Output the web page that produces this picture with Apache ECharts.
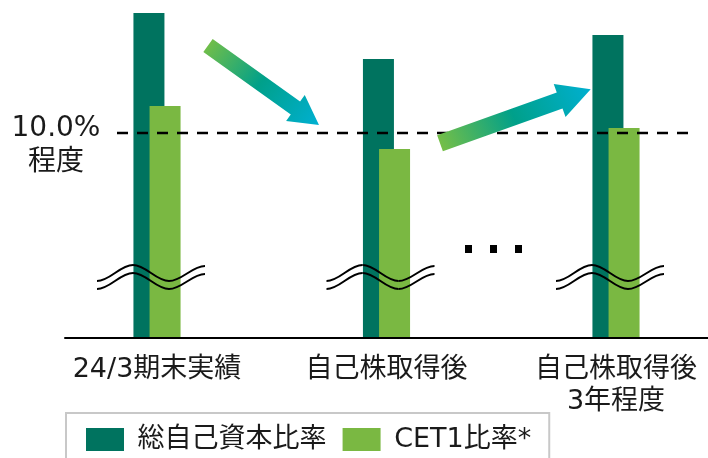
<!DOCTYPE html>
<html><head><meta charset="utf-8">
<script src="https://cdn.jsdelivr.net/npm/echarts@6/dist/echarts.min.js"></script>
<style>html,body{margin:0;padding:0;background:#fff}#c{width:708px;height:458px}</style>
</head><body><div id="c"></div>
<script>
// ---- data ----
const categories = ['24/3期末実績', '自己株取得後', '自己株取得後\n3年程度'];
const seriesNames = ['総自己資本比率', 'CET1比率*'];
const totalCapitalRatio = [15.86, 13.62, 14.79];
const cet1Ratio = [11.32, 9.22, 10.25];
const referenceLevel = 10.0;
const referenceLabel = '10.0%\n程度';

// ---- style ----
const FONT = "'DejaVu Sans', 'Noto Sans CJK JP', sans-serif";
const DARK = '#00735F', LIGHT = '#7AB842', TEXT = '#1a1a1a';

const chart = echarts.init(document.getElementById('c'), null, {renderer: 'canvas'});
chart.setOption({
  animation: false,
  grid: [
    {left: 157, right: 92, top: 5, bottom: 120},
    {left: 65, right: 0, top: 5, bottom: 120}
  ],
  xAxis: [
    {type: 'category', data: categories, gridIndex: 0, boundaryGap: false,
     axisLine: {show: false}, axisTick: {show: false}, splitLine: {show: false},
     axisLabel: {fontFamily: FONT, fontSize: 27, lineHeight: 32, color: TEXT, margin: 16, interval: 0}},
    {type: 'value', gridIndex: 1, min: 0, max: 1, position: 'bottom', z: 10,
     axisLine: {show: true, onZero: false, lineStyle: {color: '#000', width: 2}},
     axisTick: {show: false}, axisLabel: {show: false}, splitLine: {show: false}}
  ],
  yAxis: [
    {type: 'value', gridIndex: 0, min: 0, max: 16.25, show: false},
    {type: 'value', gridIndex: 1, min: 0, max: 1, show: false}
  ],
  legend: {
    left: 66, top: 413, itemWidth: 38, itemHeight: 23, itemGap: 16, icon: 'rect',
    padding: [13, 18, 20, 20], borderColor: '#c8c8c8', borderWidth: 2, selectedMode: false,
    formatter: n => ' ' + n,
    textStyle: {fontFamily: FONT, fontSize: 27, color: TEXT},
    data: seriesNames
  },
  series: [
    {name: seriesNames[0], type: 'bar', data: totalCapitalRatio, barWidth: 31, barGap: '-48%',
     clip: false, itemStyle: {color: DARK}},
    {name: seriesNames[1], type: 'bar', data: cet1Ratio, barWidth: 31, barGap: '-48%',
     clip: false, itemStyle: {color: LIGHT}}
  ]
});

// ---- annotations ----
const yRef = chart.convertToPixel({yAxisIndex: 0}, referenceLevel);
const centers = categories.map((c, i) => chart.convertToPixel({xAxisIndex: 0}, i));

function arrowPoints(tail, tip, shaftW, headW, headL) {
  const dx = tip[0] - tail[0], dy = tip[1] - tail[1], len = Math.hypot(dx, dy);
  const ux = dx / len, uy = dy / len, nx = -uy, ny = ux;
  const bx = tip[0] - ux * headL, by = tip[1] - uy * headL;
  const s = shaftW / 2, h = headW / 2;
  return [
    [tail[0] + nx * s, tail[1] + ny * s], [bx + nx * s, by + ny * s], [bx + nx * h, by + ny * h],
    tip, [bx - nx * h, by - ny * h], [bx - nx * s, by - ny * s], [tail[0] - nx * s, tail[1] - ny * s]
  ];
}
const stops = [{offset: 0, color: '#7DC142'}, {offset: 0.5, color: '#00A08A'}, {offset: 1, color: '#00B0D2'}];

const graphics = [];
graphics.push({type: 'line', z: 50, shape: {x1: 117, y1: yRef, x2: 688, y2: yRef},
  style: {stroke: '#000', lineWidth: 2.5, lineDash: [11, 9]}});
graphics.push({type: 'polygon', z: 60, shape: {points: arrowPoints([208, 45.5], [319, 125], 16, 32, 29)},
  style: {fill: new echarts.graphic.LinearGradient(0, 0, 1, 1, stops)}});
graphics.push({type: 'polygon', z: 60, shape: {points: arrowPoints([440, 143.3], [590.7, 89.3], 17, 35, 33)},
  style: {fill: new echarts.graphic.LinearGradient(0, 1, 1, 0, stops)}});
[465, 490, 515].forEach(x => graphics.push({type: 'rect', z: 60, shape: {x: x, y: 245, width: 7, height: 8}, style: {fill: '#000'}}));
graphics.push({type: 'text', z: 60, x: 56, y: 112,
  style: {text: referenceLabel, fontFamily: FONT, fontSize: 28, lineHeight: 34, fill: TEXT,
          align: 'center', textAlign: 'center', verticalAlign: 'top', textVerticalAlign: 'top'}});

// axis-break marks
const k = 1 - 2 / Math.PI;
const waveX = [-60, -24, 12, 48];
const waveY = [281, 265, 281, 266];
centers.forEach(c => {
  [0, 8].forEach(off => {
    for (let i = 0; i < 3; i++) {
      const x1 = c + waveX[i], x2 = c + waveX[i + 1], L = x2 - x1;
      const y1 = waveY[i] + off, y2 = waveY[i + 1] + off;
      graphics.push({type: 'bezierCurve', z: 70,
        shape: {x1: x1, y1: y1, x2: x2, y2: y2, cpx1: x1 + k * L, cpy1: y1, cpx2: x2 - k * L, cpy2: y2},
        style: {stroke: '#000', lineWidth: 2, fill: null}});
    }
  });
});
chart.setOption({graphic: graphics});
</script></body></html>
